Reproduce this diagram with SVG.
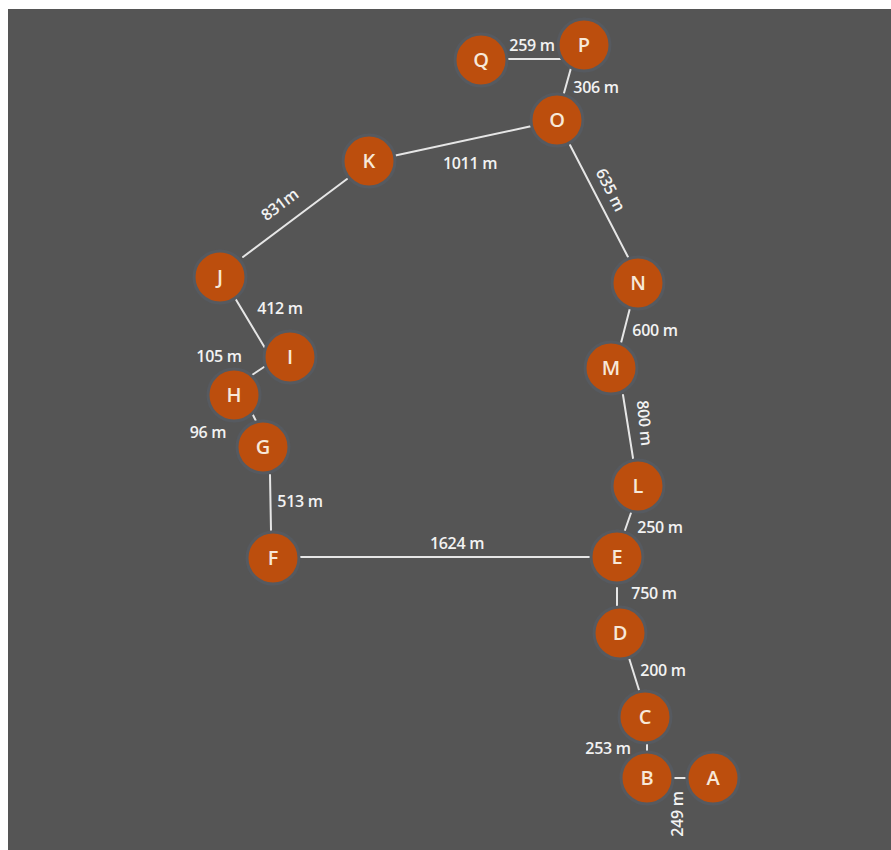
<svg xmlns="http://www.w3.org/2000/svg" width="891" height="850" viewBox="0 0 891 850">
<style>
.edge{stroke:#e6e6e6;stroke-width:2;fill:none;stroke-linecap:round}
.node circle{fill:#bc4e0d;stroke:#565a60;stroke-width:3}
.node text{font-family:"Open Sans","Liberation Sans",sans-serif;font-size:20px;font-weight:600;fill:#f7e8d8;text-anchor:middle}
.lbl{font-family:"Open Sans","Liberation Sans",sans-serif;font-size:16px;font-weight:600;fill:#f2f2f2;text-anchor:middle;letter-spacing:-0.3px}
</style>
<rect x="0" y="0" width="891" height="850" fill="#ffffff"/>
<rect x="8" y="9" width="883" height="841" fill="#555555"/>
<g id="connectors">
<line class="edge" x1="505" y1="59" x2="562" y2="59"/>
<line class="edge" x1="571" y1="68" x2="564" y2="93"/>
<line class="edge" x1="532" y1="126" x2="393" y2="156"/>
<line class="edge" x1="347" y1="179" x2="243" y2="257"/>
<line class="edge" x1="235" y1="298" x2="265" y2="348"/>
<line class="edge" x1="264" y1="367" x2="252" y2="375"/>
<line class="edge" x1="252" y1="413" x2="256" y2="421"/>
<line class="edge" x1="270" y1="475" x2="271" y2="530"/>
<line class="edge" x1="300" y1="557" x2="590" y2="557"/>
<line class="edge" x1="632" y1="510" x2="624" y2="533"/>
<line class="edge" x1="623" y1="395" x2="633" y2="458"/>
<line class="edge" x1="630" y1="308" x2="621" y2="343"/>
<line class="edge" x1="570" y1="145" x2="628" y2="257"/>
<line class="edge" x1="617" y1="588" x2="617" y2="607"/>
<line class="edge" x1="629" y1="658" x2="639" y2="690"/>
<line class="edge" x1="647" y1="743" x2="647" y2="752"/>
<line class="edge" x1="673" y1="778" x2="685" y2="778"/>
<text class="lbl" x="532" y="51">259 m</text>
<text class="lbl" x="596" y="93">306 m</text>
<text class="lbl" x="470" y="169">1011 m</text>
<text class="lbl" transform="translate(280,205) rotate(-37)" x="0" y="5">831m</text>
<text class="lbl" transform="translate(610,190) rotate(63)" x="0" y="5">635 m</text>
<text class="lbl" x="655" y="336">600 m</text>
<text class="lbl" transform="translate(644,423) rotate(84)" x="0" y="5">800 m</text>
<text class="lbl" x="280" y="314">412 m</text>
<text class="lbl" x="219" y="362">105 m</text>
<text class="lbl" x="208" y="438">96 m</text>
<text class="lbl" x="300" y="507">513 m</text>
<text class="lbl" x="457" y="549">1624 m</text>
<text class="lbl" x="660" y="533">250 m</text>
<text class="lbl" x="654" y="599">750 m</text>
<text class="lbl" x="663" y="676">200 m</text>
<text class="lbl" x="608" y="754">253 m</text>
<text class="lbl" transform="translate(678,814) rotate(-90)" x="0" y="5">249 m</text>
</g>
<g id="node-Q" class="node"><circle cx="481" cy="60" r="26"/><text x="481" y="67">Q</text></g>
<g id="node-P" class="node"><circle cx="584" cy="45" r="26"/><text x="584" y="52">P</text></g>
<g id="node-O" class="node"><circle cx="557" cy="120" r="26"/><text x="557" y="127">O</text></g>
<g id="node-K" class="node"><circle cx="369" cy="161" r="26"/><text x="369" y="168">K</text></g>
<g id="node-J" class="node"><circle cx="220" cy="277" r="26"/><text x="220" y="284">J</text></g>
<g id="node-I" class="node"><circle cx="290" cy="357" r="26"/><text x="290" y="364">I</text></g>
<g id="node-H" class="node"><circle cx="234" cy="395" r="26"/><text x="234" y="402">H</text></g>
<g id="node-G" class="node"><circle cx="263" cy="447" r="26"/><text x="263" y="454">G</text></g>
<g id="node-F" class="node"><circle cx="273" cy="558" r="26"/><text x="273" y="565">F</text></g>
<g id="node-E" class="node"><circle cx="617" cy="557" r="26"/><text x="617" y="564">E</text></g>
<g id="node-L" class="node"><circle cx="638" cy="486" r="26"/><text x="638" y="493">L</text></g>
<g id="node-M" class="node"><circle cx="611" cy="368" r="26"/><text x="611" y="375">M</text></g>
<g id="node-N" class="node"><circle cx="638" cy="283" r="26"/><text x="638" y="290">N</text></g>
<g id="node-D" class="node"><circle cx="620" cy="633" r="26"/><text x="620" y="640">D</text></g>
<g id="node-C" class="node"><circle cx="645" cy="717" r="26"/><text x="645" y="724">C</text></g>
<g id="node-B" class="node"><circle cx="647" cy="778" r="26"/><text x="647" y="785">B</text></g>
<g id="node-A" class="node"><circle cx="713" cy="778" r="26"/><text x="713" y="785">A</text></g>
</svg>
